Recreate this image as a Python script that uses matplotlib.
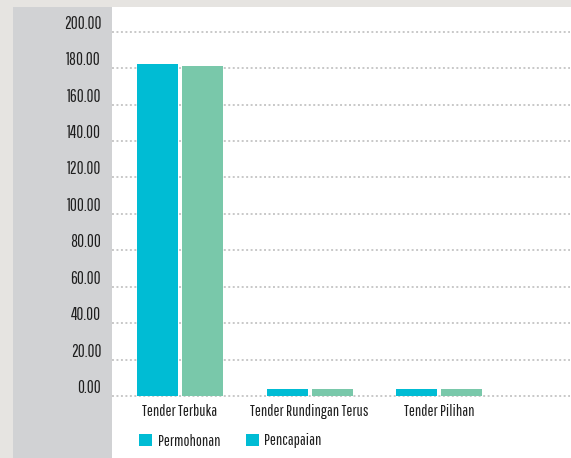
import matplotlib
matplotlib.use("Agg")
import matplotlib.pyplot as plt
from matplotlib.patches import Rectangle, Patch
from matplotlib.transforms import ScaledTranslation

# ---- data ----
categories = ["Tender Terbuka", "Tender Rundingan Terus", "Tender Pilihan"]
permohonan = [182.3, 3.8, 3.8]
pencapaian = [181.0, 3.8, 3.8]
series_names = ["Permohonan", "Pencapaian"]
yticks = [0, 20, 40, 60, 80, 100, 120, 140, 160, 180, 200]
ytick_labels = ["%.2f" % v for v in yticks]

# ---- style ----
W, H = 571, 458
DPI = 100
FONT = ["Pathway Gothic One", "Saira ExtraCondensed", "DejaVu Sans"]
FS = 11.6
plt.rcParams["font.family"] = FONT
CYAN = "#00bcd4"
GREEN = "#79c8aa"
TXT = "#1e1e1e"

fig = plt.figure(figsize=(W / DPI, H / DPI), dpi=DPI)
fig.patch.set_facecolor("#e6e4e1")

def px_rect(x0, y0_top, x1, y1_top, color):
    fig.patches.append(Rectangle((x0 / W, 1 - y1_top / H), (x1 - x0) / W,
                                 (y1_top - y0_top) / H, transform=fig.transFigure,
                                 facecolor=color, edgecolor="none", zorder=-5))

px_rect(13, 7, 112, H, "#d1d2d4")   # grey label panel
px_rect(112, 7, W, H, "#ffffff")     # white plot panel

# axes geometry (pixels)
ppu = 1.8215        # pixels per y unit
y0_px = 396         # y pixel (from top) of value 0
ymin, ymax = -2, 210
bottom_px = y0_px + (-ymin) * ppu
top_px = y0_px - ymax * ppu
left_px, right_px = 112, 570
ax = fig.add_axes([left_px / W, 1 - bottom_px / H, (right_px - left_px) / W,
                   (bottom_px - top_px) / H])
ax.set_facecolor("none")
ax.set_zorder(2)

gx = 129.5  # pixels per group
ax.set_xlim(-(180 - left_px) / gx, (right_px - 180) / gx)
ax.set_ylim(ymin, ymax)

bw = 41 / gx
off = 22.5 / gx
xs = list(range(len(categories)))
ax.bar([x - off for x in xs], permohonan, width=bw, color=CYAN, zorder=3)
ax.bar([x + off for x in xs], pencapaian, width=bw, color=GREEN, zorder=3)

ax.set_yticks(yticks)
ax.set_yticklabels(ytick_labels)
ax.set_xticks(xs)
ax.set_xticklabels(categories)
ax.tick_params(axis="both", length=0, colors=TXT, labelsize=FS)
ax.tick_params(axis="y", pad=7.8, labelsize=12.2)
ax.tick_params(axis="x", pad=3)
for lab in ax.get_yticklabels():
    lab.set_va("baseline")
    lab.set_transform(lab.get_transform() + ScaledTranslation(0, 3 / DPI, fig.dpi_scale_trans))

ax.yaxis.grid(True, color="#c8c8c8", linewidth=1.4, linestyle=(0, (1.0, 1.3)), zorder=1)
ax.xaxis.grid(False)
for s in ax.spines.values():
    s.set_visible(False)

handles = [Patch(facecolor=CYAN, edgecolor="none"), Patch(facecolor=CYAN, edgecolor="none")]
fig.legend(handles, series_names, loc="center left",
           bbox_to_anchor=(139 / W, 1 - 441 / H), ncol=2, frameon=False,
           borderpad=0, borderaxespad=0, handlelength=0.8, handleheight=0.8,
           handletextpad=0.35, columnspacing=1.6, fontsize=FS, labelcolor=TXT)

fig.savefig("out.png", dpi=DPI)
